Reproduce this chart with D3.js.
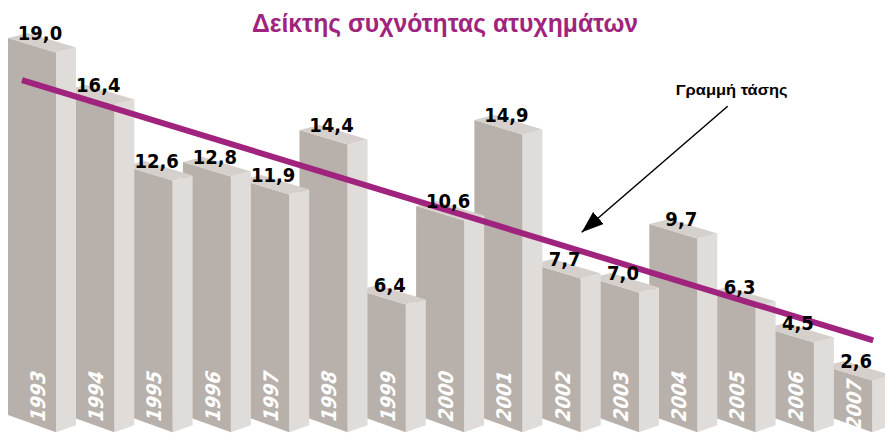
<!DOCTYPE html>
<html>
<head>
<meta charset="utf-8">
<script src="https://cdn.jsdelivr.net/npm/d3@7"></script>
<style>
    body { margin: 0; background: #fff; }
    #chart svg { display: block; }
</style>
</head>
<body>
<div id="chart"></div>
<script>
const title = "Δείκτης συχνότητας ατυχημάτων";
const trendLabel = "Γραμμή τάσης";
const years = ["1993","1994","1995","1996","1997","1998","1999","2000","2001","2002","2003","2004","2005","2006","2007"];
const values = [19.0, 16.4, 12.6, 12.8, 11.9, 14.4, 6.4, 10.6, 14.9, 7.7, 7.0, 9.7, 6.3, 4.5, 2.6];

document.addEventListener("DOMContentLoaded", drawChart)

function drawChart(){
    const width = 885;
    const height = 439;
    const frontW = 48, sideW = 20;
    // slopes of the fake 3d box edges
    const topSlope = 0.3, sideSlope = 0.25, bottomSlope = 0.36, bottomSideSlope = 0.35;
    const numFont = "DejaVu Sans Condensed, DejaVu Sans, sans-serif";

    const svg = d3.select("#chart").append("svg")
        .attr("width", width)
        .attr("height", height);

    const x = d3.scaleBand()
        .domain(years)
        .range([8, 8 + 58.3 * years.length])
        .paddingInner(0);
    const y = d3.scaleLinear()
        .domain([0, 19])
        .range([418, 38]);

    const data = years.map((yr, i) => ({year: yr, value: values[i], i: i}));
    const fmt = v => d3.format(".1f")(v).replace(".", ",");

    // bars go right to left so the left box hides the next one
    const bars = svg.append("g")
        .attr("name", "bars")
        .selectAll("g")
        .data(data.slice().reverse())
        .enter()
        .append("g");

    const pts = function(d){
        const x0 = x(d.year), t = y(d.value), b = y(0) - 3;
        const x1 = x0 + frontW, x2 = x1 + sideW;
        return {
            front: [[x0, t], [x1, t + frontW * topSlope], [x1, b + frontW * bottomSlope], [x0, b]],
            side: [[x1, t + frontW * topSlope], [x2, t + frontW * topSlope - sideW * sideSlope],
                   [x2, b + frontW * bottomSlope - sideW * bottomSideSlope], [x1, b + frontW * bottomSlope]],
            top: [[x0, t], [x1, t + frontW * topSlope], [x2, t + frontW * topSlope - sideW * sideSlope],
                  [x0 + sideW, t - sideW * sideSlope]]
        };
    };
    const poly = p => p.map(q => q.join(",")).join(" ");

    bars.append("polygon")
        .attr("points", d => poly(pts(d).side))
        .attr("fill", "#e0dcd9");
    bars.append("polygon")
        .attr("points", d => poly(pts(d).front))
        .attr("fill", "#b8b0aa");
    bars.append("polygon")
        .attr("points", d => poly(pts(d).top))
        .attr("fill", "#d5d0cc");
    bars.append("text")
        .attr("transform", d => {
            const cy = Math.max(396, y(d.value) + 38);
            return "translate(" + (x(d.year) + 30) + "," + cy + ") skewY(16.7) rotate(-90)";
        })
        .attr("text-anchor", "middle")
        .attr("dominant-baseline", "central")
        .attr("font-family", numFont)
        .attr("font-weight", "bold")
        .attr("font-size", 20)
        .attr("fill", "#fff")
        .text(d => d.year);

    // trend line (least squares on the values)
    const mx = d3.mean(data, d => d.i), my = d3.mean(values);
    const slope = d3.sum(data, d => (d.i - mx) * (d.value - my)) / d3.sum(data, d => (d.i - mx) * (d.i - mx));
    const trend = i => my + slope * (i - mx);
    const tx = i => x.range()[0] + x.step() * i + 14;
    const ty = i => y(trend(i)) - 4;

    svg.append("line")
        .attr("x1", tx(0)).attr("y1", ty(0))
        .attr("x2", tx(14.6)).attr("y2", ty(14.6))
        .attr("stroke", "#a0247d")
        .attr("stroke-width", 6);

    // value labels
    svg.append("g")
        .selectAll("text")
        .data(data)
        .enter()
        .append("text")
        .attr("x", d => x(d.year) + 32)
        .attr("y", d => y(d.value) + 2)
        .attr("text-anchor", "middle")
        .attr("font-family", numFont)
        .attr("font-weight", "bold")
        .attr("font-size", 20)
        .attr("fill", "#000")
        .text(d => fmt(d.value));

    // annotation arrow pointing at the trend line
    const tipX = tx(9.6), tipY = ty(9.6) - 19;
    svg.append("defs").append("marker")
        .attr("id", "head")
        .attr("markerUnits", "userSpaceOnUse")
        .attr("markerWidth", 22).attr("markerHeight", 16)
        .attr("refX", 22).attr("refY", 8)
        .attr("orient", "auto")
        .append("path")
        .attr("d", "M0,0 L22,8 L0,16 Z")
        .attr("fill", "#000");
    svg.append("line")
        .attr("x1", tipX + 146).attr("y1", tipY - 126)
        .attr("x2", tipX).attr("y2", tipY)
        .attr("stroke", "#000")
        .attr("stroke-width", 1.5)
        .attr("marker-end", "url(#head)");
    svg.append("text")
        .attr("x", tipX + 206)
        .attr("y", tipY - 137)
        .attr("text-anchor", "end")
        .attr("font-family", "Liberation Sans, Arial, sans-serif")
        .attr("font-weight", "bold")
        .attr("font-size", 15)
        .attr("textLength", 112)
        .attr("lengthAdjust", "spacingAndGlyphs")
        .text(trendLabel);

    svg.append("text")
        .attr("x", 445)
        .attr("y", 32)
        .attr("text-anchor", "middle")
        .attr("font-family", "Liberation Sans, Arial, sans-serif")
        .attr("font-weight", "bold")
        .attr("font-size", 26)
        .attr("textLength", 386)
        .attr("lengthAdjust", "spacingAndGlyphs")
        .attr("fill", "#a0247d")
        .text(title);
}
</script>
</body>
</html>
